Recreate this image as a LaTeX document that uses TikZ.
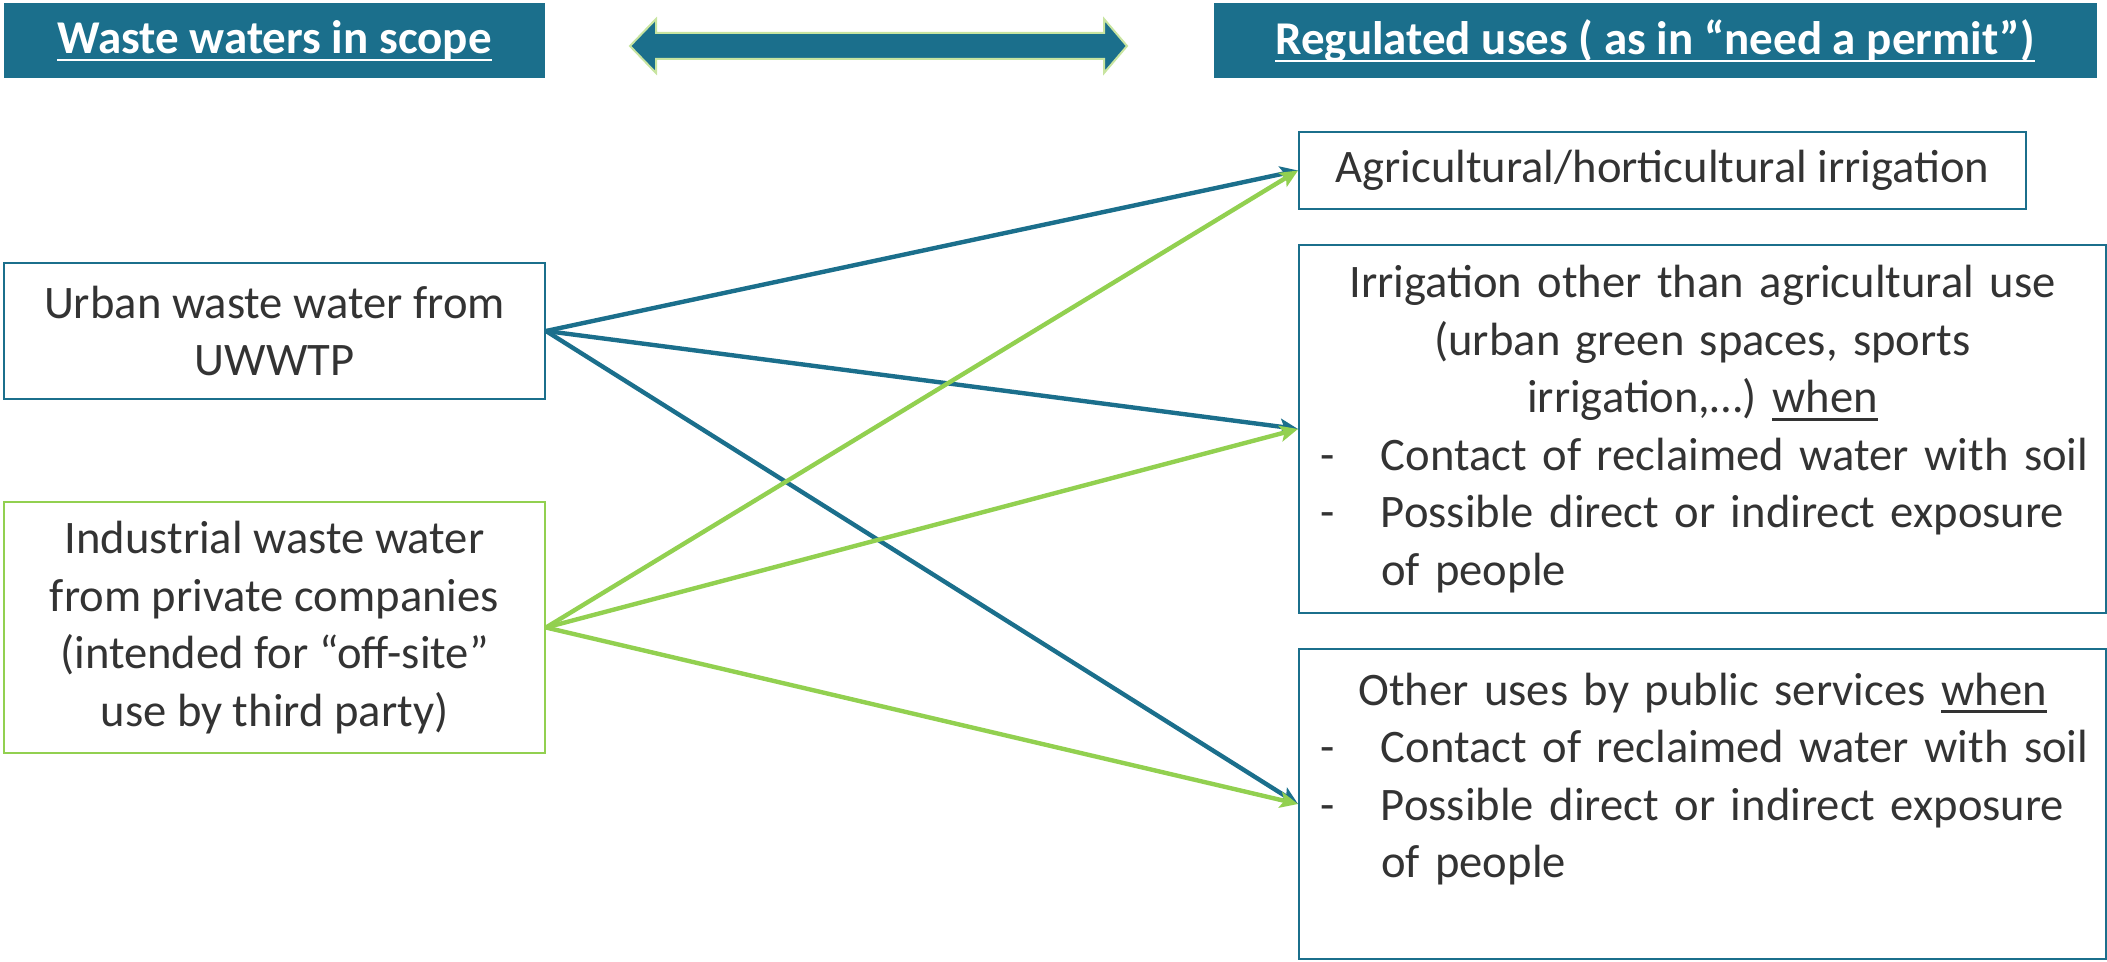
\documentclass[tikz,border=0pt]{standalone}
\usepackage{fontspec}
\setmainfont{Carlito}
\usetikzlibrary{arrows.meta}
\definecolor{wteal}{RGB}{27,111,140}
\definecolor{wgreen}{RGB}{146,208,80}
\definecolor{wpale}{RGB}{200,228,160}
\definecolor{wtext}{RGB}{51,51,51}
\newsavebox{\wulbox}
\newcommand{\wul}[1]{\sbox{\wulbox}{#1}\rlap{\rule[-4pt]{\wd\wulbox}{1.3pt}}\usebox{\wulbox}}

\begin{document}
\begin{tikzpicture}[x=0.5pt,y=-0.5pt,
    hnode/.style={fill=wteal, text=white, inner sep=0pt, minimum height=37.5pt, font=\bfseries\fontsize{23.5}{28}\selectfont},
    bnode/.style={draw=#1, line width=1pt, text=wtext, inner sep=0pt, font=\fontsize{23.3}{28.8}\selectfont},
    tline/.style={color=#1, line width=2.2pt, -{Stealth[length=9pt,width=8pt,inset=2pt]}}]
    \useasboundingbox (0,0) rectangle (2107,962);

    % headers
    \node[hnode, minimum width=270.5pt] (lh) at (274.5,41) {\wul{Waste waters in scope}};
    \node[hnode, minimum width=441.5pt] (rh) at (1655,41) {\wul{Regulated uses ( as in “need a permit”)}};
    \draw[fill=wteal, draw=wpale, line width=1pt] (630,46) -- (656,19) -- (656,33) -- (1104,33) -- (1104,19) -- (1127,46)
        -- (1104,73) -- (1104,59) -- (656,59) -- (656,73) -- cycle;

    % waste waters
    \node[bnode=wteal, align=center, minimum width=270.5pt, minimum height=68pt] (uw) at (274.5,331)
        {Urban waste water from\\UWWTP};
    \node[bnode=wgreen, align=center, minimum width=270.5pt, minimum height=125.5pt] (iw) at (274.5,627.5)
        {Industrial waste water\\from private companies\\(intended for “off-site”\\use by third party)};

    % uses
    \node[bnode=wteal, minimum width=363.5pt, minimum height=38.5pt] (agr) at (1662.5,170.5)
        {Agricultural/horticultural irrigation};
    \node[bnode=wteal, inner xsep=10.5pt, text width=382.5pt, minimum height=184pt] (irr) at (1702.5,429)
        {\centering Irrigation other than agricultural use\\(urban green spaces, sports\\irrigation,…) \wul{when}\par
         \raggedright\mbox{\makebox[30.5pt][l]{-}Contact of reclaimed water with soil}\\
         \mbox{\makebox[30.5pt][l]{-}Possible direct or indirect exposure}\\
         \mbox{\hspace*{30.5pt}of people}};
    \node[bnode=wteal, inner xsep=10.5pt, text width=382.5pt, minimum height=155pt] (oth) at (1702.5,804)
        {\centering Other uses by public services \wul{when}\par
         \raggedright\mbox{\makebox[30.5pt][l]{-}Contact of reclaimed water with soil}\\
         \mbox{\makebox[30.5pt][l]{-}Possible direct or indirect exposure}\\
         \mbox{\hspace*{30.5pt}of people}\par\vspace*{25pt}};

    \draw[tline=wteal] (uw.east) to (agr.west);
    \draw[tline=wteal] (uw.east) to (irr.west);
    \draw[tline=wteal] (uw.east) to (oth.west);

    \draw[tline=wgreen] (iw.east) to (agr.west);
    \draw[tline=wgreen] (iw.east) to (irr.west);
    \draw[tline=wgreen] (iw.east) to (oth.west);
\end{tikzpicture}
\end{document}
